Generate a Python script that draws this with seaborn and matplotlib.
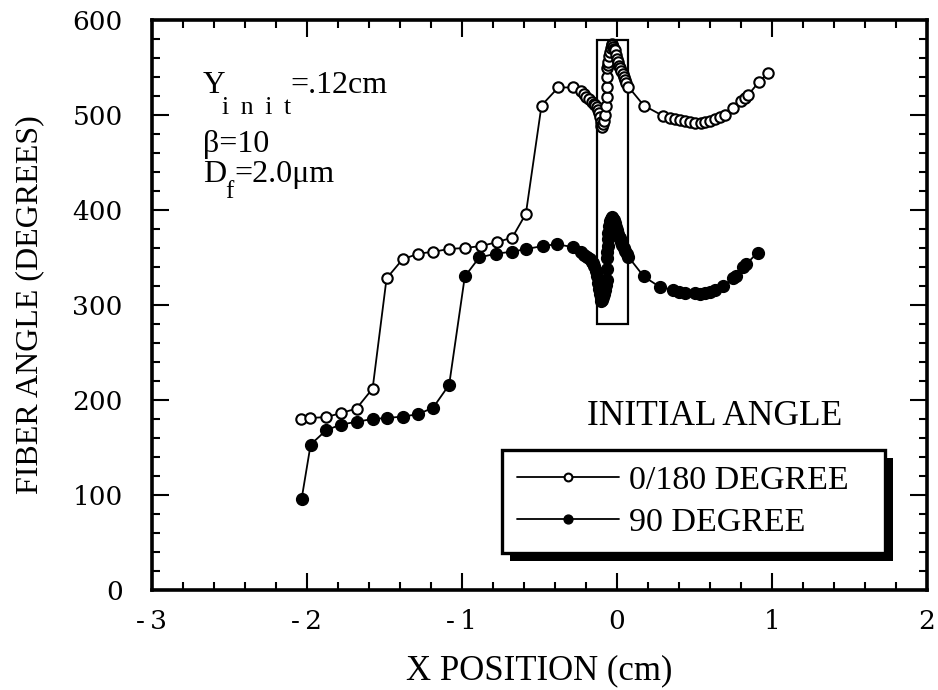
import numpy as np
import pandas as pd
import matplotlib
matplotlib.use('Agg')
import matplotlib.pyplot as plt
import matplotlib.patheffects as pe
from matplotlib.patches import Rectangle
from matplotlib.ticker import MultipleLocator
import seaborn as sns

# Values
x_open = [-2.035, -1.981, -1.877, -1.783, -1.680, -1.576, -1.486, -1.383, -1.282, -1.185,
          -1.082, -0.981, -0.879, -0.776, -0.675, -0.587, -0.486, -0.378, -0.286, -0.228,
          -0.210, -0.196, -0.180, -0.163, -0.150, -0.142, -0.130, -0.121, -0.115, -0.110,
          -0.104, -0.099, -0.093, -0.088, -0.082, -0.077, -0.072, -0.066, -0.066, -0.066,
          -0.062, -0.058, -0.056, -0.050, -0.045, -0.040, -0.034, -0.029, -0.024, -0.018,
          -0.013, -0.006, 0.000, 0.009, 0.016, 0.023, 0.030, 0.037, 0.045, 0.052,
          0.060, 0.073, 0.174, 0.299, 0.340, 0.374, 0.410, 0.439, 0.470, 0.503,
          0.540, 0.568, 0.600, 0.632, 0.665, 0.697, 0.750, 0.804, 0.825, 0.847,
          0.918, 0.976]
y_open = [180, 181, 182, 186, 191, 212, 328, 348, 354, 356,
          359, 360, 362, 366, 371, 396, 510, 529, 529, 525,
          522, 519, 517, 514, 512, 511, 508, 505, 502, 498,
          493, 488, 487, 490, 494, 500, 509, 519, 530, 540,
          549, 553, 556, 562, 566, 571, 575, 574, 572, 570,
          568, 563, 559, 556, 552, 549, 546, 543, 540, 537,
          534, 530, 510, 499, 497, 496, 495, 494, 493, 492,
          492, 493, 494, 496, 498, 500, 507, 515, 518, 521,
          535, 544]

x_fill = [-2.034, -1.976, -1.877, -1.783, -1.680, -1.576, -1.486, -1.383, -1.282, -1.185,
          -1.082, -0.981, -0.888, -0.781, -0.679, -0.583, -0.479, -0.389, -0.286, -0.228,
          -0.210, -0.190, -0.175, -0.160, -0.153, -0.145, -0.135, -0.128, -0.121, -0.115,
          -0.110, -0.104, -0.099, -0.094, -0.090, -0.084, -0.078, -0.072, -0.066, -0.066,
          -0.066, -0.062, -0.060, -0.058, -0.056, -0.050, -0.045, -0.040, -0.034, -0.029,
          -0.024, -0.018, -0.013, -0.007, -0.002, 0.006, 0.013, 0.020, 0.028, 0.036,
          0.045, 0.053, 0.063, 0.073, 0.174, 0.277, 0.363, 0.400, 0.439, 0.503,
          0.535, 0.568, 0.600, 0.632, 0.686, 0.750, 0.770, 0.815, 0.835, 0.908]
y_fill = [96, 153, 168, 174, 177, 180, 181, 182.5, 185, 192,
          216, 330, 350, 354, 356, 359, 362, 364, 361, 356,
          353, 350, 348, 345, 344, 341, 336, 330, 323, 317,
          312, 307, 304, 305, 308, 312, 316, 321, 326, 338,
          349, 356, 362, 369, 376, 383, 388, 391, 393, 392,
          391, 389, 386, 382, 379, 375, 372, 370, 366, 363,
          360, 357, 354, 351, 330, 319, 316, 314, 313, 313,
          312, 313, 314, 316, 320, 328, 331, 340, 343, 355]

series_names = ['0/180 DEGREE', '90 DEGREE']
xticks = [-3, -2, -1, 0, 1, 2]
xtick_labels = ['-\u20093', '-\u20092', '-\u20091', '0', '1', '2']
yticks = [0, 100, 200, 300, 400, 500, 600]

sns.set_style('ticks')
plt.rcParams['font.family'] = ['Liberation Serif', 'DejaVu Serif']
plt.rcParams['axes.unicode_minus'] = False
for key in ['text.color', 'axes.labelcolor', 'xtick.color', 'ytick.color', 'axes.edgecolor']:
    plt.rcParams[key] = 'black'

fig = plt.figure(figsize=(9.38, 6.90), dpi=100)
ax = fig.add_axes([0.162, 0.145, 0.826, 0.826])

sns.lineplot(x=x_open, y=y_open, sort=False, estimator=None, ax=ax,
             color='black', lw=1.3, marker='o', markersize=7.5,
             markerfacecolor='white', markeredgecolor='black', markeredgewidth=1.5,
             label=series_names[0])
sns.lineplot(x=x_fill, y=y_fill, sort=False, estimator=None, ax=ax,
             color='black', lw=1.3, marker='o', markersize=8.5,
             markerfacecolor='black', markeredgecolor='black', markeredgewidth=1,
             label=series_names[1])

# box around the region near x = 0
ax.add_patch(Rectangle((-0.131, 280), 0.204, 299, fill=False, lw=1.6,
                       ec='black', zorder=1))

ax.set_xlim(-3, 2)
ax.set_ylim(0, 600)
ax.set_xticks(xticks)
ax.set_xticklabels(xtick_labels)
ax.set_yticks(yticks)
ax.xaxis.set_minor_locator(MultipleLocator(0.2))
ax.yaxis.set_minor_locator(MultipleLocator(20))
ax.tick_params(which='both', direction='in', top=True, right=True, width=1.5,
               labelsize=19)
ax.tick_params(which='major', length=12)
ax.tick_params(which='minor', length=6)
ax.tick_params(axis='x', pad=14)
ax.tick_params(axis='y', pad=21)
for lbl in ax.get_xticklabels() + ax.get_yticklabels():
    lbl.set_fontfamily(['DejaVu Serif'])
for s in ax.spines.values():
    s.set_linewidth(2.6)

ax.set_xlabel('X POSITION (cm)', fontsize=25, labelpad=14)
ax.set_ylabel('FIBER ANGLE (DEGREES)', fontsize=23, labelpad=20)

# parameter notes, top left
x0 = -2.67
ax.text(x0, 523, 'Y', fontsize=22.5)
ax.annotate('i\u2009 n\u2009 i\u2009 t', xy=(x0, 523), xytext=(13.5, -15),
            textcoords='offset points', fontsize=18.5,
            family=['Liberation Serif', 'DejaVu Serif'])
ax.annotate('=.12cm', xy=(x0, 523), xytext=(63, 0), textcoords='offset points',
            fontsize=23)
ax.text(x0, 461, 'β=10', fontsize=23)
ax.text(x0, 429, 'D', fontsize=23)
ax.annotate('f', xy=(x0, 429), xytext=(16, -11), textcoords='offset points', fontsize=18)
ax.annotate('=2.0μm', xy=(x0, 429), xytext=(22.5, 0), textcoords='offset points',
            fontsize=23)

leg = ax.legend(loc='lower left', bbox_to_anchor=(0.4516, 0.0649, 0.494, 0.195),
                mode='expand', borderaxespad=0, frameon=True, fancybox=False,
                edgecolor='black', framealpha=1, fontsize=24.5, handlelength=3.0,
                handletextpad=0.3, borderpad=0.45, labelspacing=0.32, markerscale=0.75)
frame = leg.get_frame()
frame.set_linewidth(2.4)
frame.set_path_effects([pe.SimplePatchShadow(offset=(6, -6), shadow_rgbFace='black', alpha=1),
                        pe.Normal()])
ax.text(0.726, 0.305, 'INITIAL ANGLE', transform=ax.transAxes, fontsize=25.5,
        ha='center', va='center')

fig.savefig('out.png', dpi=100)
